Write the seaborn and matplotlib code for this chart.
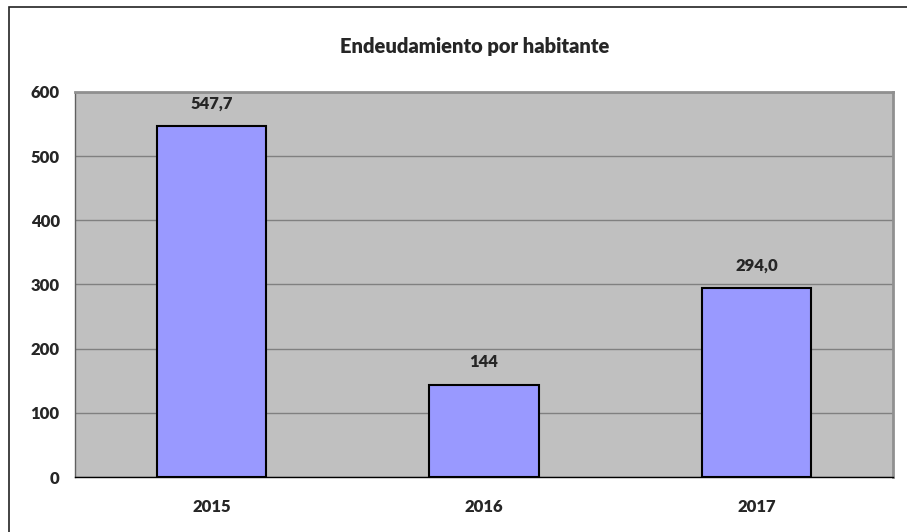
import matplotlib
matplotlib.use("Agg")
import matplotlib.pyplot as plt
import seaborn as sns
import pandas as pd
from matplotlib.patches import Rectangle

# ===== 数据 =====
years = ["2015", "2016", "2017"]
values = [547.7, 144, 294.0]
value_labels = ["547,7", "144", "294,0"]
y_ticks = [0, 100, 200, 300, 400, 500, 600]

df = pd.DataFrame({"year": years, "value": values})

sns.set_style("white")
plt.rcParams["font.family"] = ["Lato", "DejaVu Sans"]
plt.rcParams["font.weight"] = "heavy"
FW = "heavy"

fig = plt.figure(figsize=(9.07, 5.32), dpi=100)
ax = fig.add_axes([75 / 907, 1 - 477 / 532, (893 - 75) / 907, (477 - 92) / 532])

# 外框
fig.patches.append(Rectangle((9 / 907, -0.05), 1.0, 1 - 7 / 532 + 0.05,
                             transform=fig.transFigure, fill=False,
                             edgecolor="#222222", linewidth=1.2))

ax.set_facecolor("#C0C0C0")
sns.barplot(data=df, x="year", y="value", order=years, width=0.4,
            color="#9999FF", edgecolor="black", linewidth=1.5,
            saturation=1, ax=ax, zorder=3)

ax.set_ylim(0, 600)
ax.set_yticks(y_ticks)
ax.yaxis.grid(True, color="#808080", linewidth=1, zorder=0)
ax.set_axisbelow(True)
ax.set_xlabel("")
ax.set_ylabel("")
ax.tick_params(axis="y", length=6, width=1, color="#808080", labelsize=12, pad=5)
ax.tick_params(axis="x", length=0, labelsize=12, pad=16)
for lbl in ax.get_xticklabels() + ax.get_yticklabels():
    lbl.set_fontweight(FW)

for side in ["top", "right"]:
    ax.spines[side].set_color("#909090")
    ax.spines[side].set_linewidth(2)
ax.spines["left"].set_color("#606060")
ax.spines["left"].set_linewidth(1)
ax.spines["bottom"].set_color("black")
ax.spines["bottom"].set_linewidth(1)

# 数值标签
for i, (v, t) in enumerate(zip(values, value_labels)):
    ax.annotate(t, (i, v), xytext=(0, 16), textcoords="offset points",
                ha="center", va="center", fontsize=12, fontweight=FW)

fig.text(475 / 907, 1 - 47 / 532, "Endeudamiento por habitante",
         ha="center", va="center", fontsize=14.5, fontweight=FW)

fig.savefig("out.png", dpi=100)
